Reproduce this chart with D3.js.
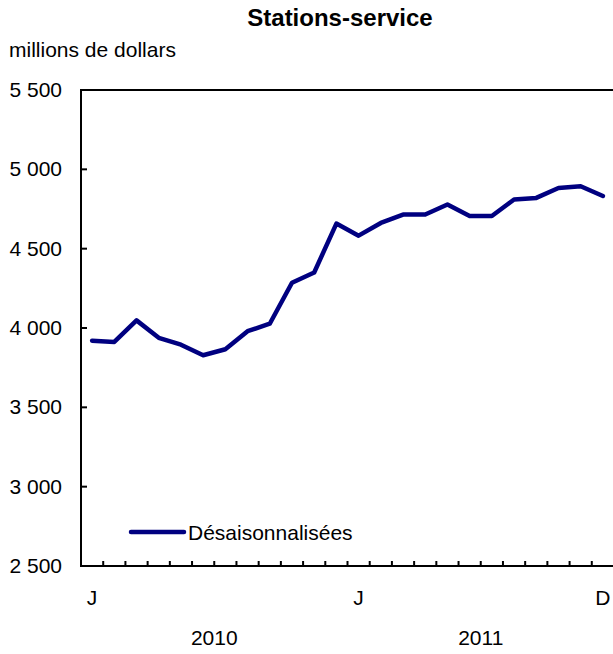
<!DOCTYPE html>
<html>
<head>
<meta charset="utf-8">
<script src="https://cdnjs.cloudflare.com/ajax/libs/d3/7.8.5/d3.min.js"></script>
<style>
  body { margin: 0; background: #fff; overflow: hidden; }
  svg { display: block; font-family: "Liberation Sans", Arial, sans-serif; }
  text { fill: #000; }
</style>
</head>
<body>
<svg id="chart" width="613" height="654"></svg>
<script>
// months jan 2010 .. dec 2011
var months = ['2010-01','2010-02','2010-03','2010-04','2010-05','2010-06','2010-07','2010-08','2010-09','2010-10','2010-11','2010-12',
              '2011-01','2011-02','2011-03','2011-04','2011-05','2011-06','2011-07','2011-08','2011-09','2011-10','2011-11','2011-12'];
var sales = [3920, 3912, 4048, 3938, 3895, 3828, 3866, 3980, 4027, 4285, 4350, 4658,
             4582, 4662, 4715, 4715, 4778, 4706, 4706, 4810, 4820, 4882, 4893, 4832];
var monthLabels = [{m: '2010-01', t: 'J'}, {m: '2011-01', t: 'J'}, {m: '2011-12', t: 'D'}];
var years = [{t: '2010', from: '2010-01', to: '2010-12'}, {t: '2011', from: '2011-01', to: '2011-12'}];
var yTicks = [2500, 3000, 3500, 4000, 4500, 5000, 5500];
var seriesName = 'Désaisonnalisées';

var svg = d3.select('#chart');
// note: "top" is taken by window.top, so keep plot edges in one object
var plot = {left: 81, right: 614, top: 90, bottom: 566};

var x = d3.scaleBand().domain(months).range([plot.left, plot.right]).paddingInner(0).paddingOuter(0);
var y = d3.scaleLinear().domain([2500, 5500]).range([plot.bottom, plot.top]);
var fmt = function(v) { return d3.format(',')(v).replace(',', ' '); };
var cx = function(m) { return x(m) + x.bandwidth() / 2; };

svg.append('text')
  .attr('x', 340).attr('y', 26)
  .attr('text-anchor', 'middle')
  .style('font-size', '24px').style('font-weight', 'bold')
  .text('Stations-service');

svg.append('text')
  .attr('x', 9).attr('y', 57)
  .style('font-size', '21px')
  .text('millions de dollars');

// y axis ticks + labels
svg.append('g').selectAll('line').data(yTicks.slice(1, -1)).enter().append('line')
  .attr('x1', plot.left).attr('x2', plot.left + 6)
  .attr('y1', function(d) { return y(d); }).attr('y2', function(d) { return y(d); })
  .attr('stroke', '#000').attr('stroke-width', 2);

svg.append('g').selectAll('text').data(yTicks).enter().append('text')
  .attr('x', 62).attr('y', function(d) { return y(d) + 7; })
  .attr('text-anchor', 'end')
  .style('font-size', '21px')
  .text(fmt);

// x axis minor ticks at month edges
svg.append('g').selectAll('line').data(months.slice(1)).enter().append('line')
  .attr('x1', function(d) { return x(d); }).attr('x2', function(d) { return x(d); })
  .attr('y1', plot.bottom).attr('y2', plot.bottom - 5)
  .attr('stroke', '#000').attr('stroke-width', 2);

svg.append('g').selectAll('text').data(monthLabels).enter().append('text')
  .attr('x', function(d) { return cx(d.m); }).attr('y', 605)
  .attr('text-anchor', 'middle')
  .style('font-size', '21px')
  .text(function(d) { return d.t; });

svg.append('g').selectAll('text').data(years).enter().append('text')
  .attr('x', function(d) { return (x(d.from) + x(d.to) + x.bandwidth()) / 2; }).attr('y', 645)
  .attr('text-anchor', 'middle')
  .style('font-size', '21px')
  .text(function(d) { return d.t; });

// frame: left, top and bottom only (the right edge falls outside the picture)
svg.append('path')
  .attr('d', 'M' + (plot.right + 10) + ',' + plot.top + 'H' + plot.left + 'V' + plot.bottom + 'H' + (plot.right + 10))
  .attr('fill', 'none').attr('stroke', '#000').attr('stroke-width', 2);

// series
var line = d3.line()
  .x(function(d, i) { return cx(months[i]); })
  .y(function(d) { return y(d); });

svg.append('path')
  .datum(sales)
  .attr('d', line)
  .attr('fill', 'none')
  .attr('stroke', '#000080')
  .attr('stroke-width', 4.5)
  .attr('stroke-linejoin', 'round')
  .attr('stroke-linecap', 'round');

// legend
svg.append('line')
  .attr('x1', 131).attr('x2', 184).attr('y1', 532).attr('y2', 532)
  .attr('stroke', '#000080').attr('stroke-width', 4.5).attr('stroke-linecap', 'round');
svg.append('text')
  .attr('x', 188).attr('y', 540)
  .style('font-size', '21px')
  .text(seriesName);
</script>
</body>
</html>
